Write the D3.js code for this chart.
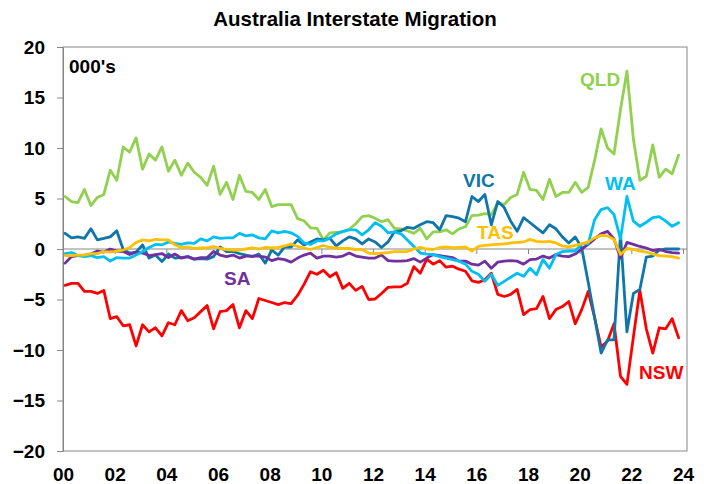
<!DOCTYPE html>
<html><head><meta charset="utf-8">
<script src="https://cdn.jsdelivr.net/npm/d3@7"></script>
<style>
body{margin:0;background:#fff}
svg{display:block}
text{font-family:"Liberation Sans",Arial,Helvetica,sans-serif;font-weight:bold}
</style>
</head><body>
<svg id="chart" width="709" height="484"></svg>
<script>
// Quarterly interstate migration, 000's, Mar-2000 .. Dec-2023 (96 quarters)
const qld = [5.2,4.7,4.6,5.9,4.3,5.1,5.4,7.8,6.8,10.1,9.6,11.0,7.9,9.4,8.8,10.1,7.7,8.8,7.3,8.5,7.6,7.1,6.3,8.2,5.4,6.6,4.9,7.3,5.7,5.6,4.9,
  5.9,4.2,4.4,4.4,4.4,3.0,2.8,2.1,2.05,0.9,1.6,1.65,1.7,1.95,2.5,3.2,3.3,3.05,2.7,2.9,2.05,2.0,1.8,1.55,2.05,1.0,1.7,1.7,1.9,1.5,2.0,
  2.2,3.3,3.35,3.5,3.4,4.6,4.4,5.1,5.4,7.6,5.9,5.8,4.9,6.9,5.2,5.6,5.6,6.6,5.6,6.1,8.8,11.9,10.0,9.4,13.8,17.6,10.9,6.8,7.2,10.3,7.1,7.9,7.45,9.3];
const nsw = [-3.6,-3.4,-3.4,-4.2,-4.2,-4.4,-4.1,-6.9,-6.7,-7.6,-7.5,-9.6,-7.5,-8.2,-7.8,-8.6,-7.3,-7.5,-6.1,-7.1,-6.8,-6.2,-5.6,-7.9,-6.2,-6.1,-5.5,-7.8,-6.1,-6.9,-4.9,
  -5.1,-5.3,-5.5,-5.3,-5.4,-4.6,-3.5,-2.25,-2.5,-2.1,-2.75,-2.35,-3.9,-3.4,-4.1,-3.7,-5.0,-4.95,-4.4,-3.8,-3.75,-3.75,-3.4,-1.75,-2.4,
  -1.0,-1.5,-1.15,-1.8,-1.7,-2.0,
  -2.2,-3.15,-3.3,-3.05,-2.4,-4.5,-4.7,-4.5,-4.0,-6.5,
  -6.0,-5.9,-4.7,-6.9,-6.0,-5.7,-5.2,-7.4,-6.0,-4.2,-6.8,-9.7,-9.1,-7.4,-12.6,-13.4,-8.7,-4.1,-7.9,-10.3,-7.8,-7.9,-6.9,-8.8];
const vic = [1.55,1.1,1.2,1.05,2.0,0.9,1.05,1.2,1.8,-0.05,-0.4,-0.3,0.4,-0.9,-0.6,-1.25,-0.5,-0.9,-0.85,-0.75,-1.0,-0.95,-1.0,-0.75,0.2,-0.25,-0.25,-0.45,-0.6,
  -0.75,-0.5,-1.4,-0.1,-0.6,0.2,0.2,0.9,0.4,0.7,1.0,0.9,1.05,0.3,0.8,1.2,1.0,0.5,1.0,0.7,0.15,0.7,1.7,1.8,2.15,2.05,2.4,2.7,2.6,1.9,3.3,3.2,3.05,
  2.7,5.2,4.7,5.4,2.4,4.7,4.1,2.75,1.75,3.1,2.6,
  2.1,1.6,2.4,2.0,1.2,0.6,1.2,0.1,-3.3,-6.8,-10.3,-9.0,-9.0,1.5,-8.2,-4.4,-4.0,-0.8,-0.7,-0.1,0.0,0.0,0.0];
const sa = [-1.4,-0.75,-0.65,-0.6,-0.5,-0.2,-0.3,0.0,-0.2,-0.25,-0.55,-0.3,-0.4,-0.65,-0.55,-0.45,-0.85,-0.5,-0.9,-0.75,-1.0,-0.85,-0.85,-0.25,-0.6,-0.75,-0.6,-0.9,-0.7,
  -0.7,-0.7,-0.8,-1.15,-0.95,-1.05,-1.3,-0.9,-0.6,-0.4,-0.9,-0.7,-0.7,-0.8,-0.7,-0.4,-0.7,-0.8,-0.9,-0.9,-0.6,-1.15,-1.2,-1.2,-1.15,-0.95,-1.3,-0.9,-0.55,
  -0.65,-0.75,-0.85,-1.2,-1.2,-1.5,-1.6,-1.2,-1.9,-1.3,-1.2,-1.15,-1.2,-1.5,-1.05,-1.0,-0.7,-0.9,-0.55,-0.7,-0.75,
  -0.5,0.0,0.45,1.0,1.5,1.75,1.0,-0.9,0.65,0.45,0.25,0.1,-0.15,-0.05,-0.25,-0.35,-0.4];
const wa = [-0.45,-0.35,-0.65,-0.75,-0.65,-0.85,-0.75,-1.2,-0.85,-0.9,-0.9,-0.6,-0.25,0.15,0.45,0.4,0.7,0.55,0.45,0.6,0.55,1.0,0.8,1.2,1.05,1.1,1.1,1.55,
  1.3,1.4,1.1,1.0,1.8,1.6,1.75,1.6,1.25,0.6,0.45,0.8,0.8,1.1,1.5,1.75,1.9,1.9,1.4,1.9,2.6,2.25,1.6,1.7,1.5,0.9,0.25,-0.4,-0.5,-0.55,
  -0.75,-0.9,-1.05,-1.2,-1.5,-2.2,-2.5,-3.2,-2.5,-3.6,-3.2,-2.8,-2.4,-2.7,-1.9,-2.55,-1.05,-1.9,-0.55,-0.25,-0.2,-0.2,0.5,0.5,
  2.9,3.9,4.1,3.4,1.0,5.2,2.75,2.25,2.65,3.1,3.2,2.75,2.25,2.6];
const tas = [-0.65,-0.65,-0.6,-0.6,-0.45,-0.45,-0.25,-0.3,-0.2,-0.1,0.15,0.65,0.9,0.8,0.95,0.9,0.9,0.4,0.15,0.2,0.05,0.1,0.1,0.25,0.05,-0.05,-0.1,-0.1,0.0,
  0.1,0.0,0.15,0.1,0.15,0.3,0.5,0.25,0.1,-0.05,0.15,0.35,0.15,0.1,0.05,0.05,-0.05,-0.05,-0.4,-0.45,-0.4,-0.35,-0.25,-0.25,-0.25,0.0,0.15,0.0,-0.05,
  0.15,0.2,0.1,0.15,0.2,-0.2,0.25,0.35,0.4,0.45,0.5,0.6,0.65,0.7,0.95,0.75,0.7,0.75,0.6,0.3,
  0.2,0.35,0.5,0.7,1.1,1.35,1.3,0.95,-0.55,0.05,-0.05,-0.2,-0.3,-0.5,-0.65,-0.7,-0.75,-0.9];

const firstQuarter = 2000.08;          // decimal date of first quarterly observation
const xTickYears = [2000,2002,2004,2006,2008,2010,2012,2014,2016,2018,2020,2022,2024];
const xTickLabels = ["00","02","04","06","08","10","12","14","16","18","20","22","24"];
const yTicks = [-20,-15,-10,-5,0,5,10,15,20];

const series = [
  {name:"NSW", values:nsw, color:"#FF0000", lx:639, ly:379},
  {name:"QLD", values:qld, color:"#92D050", lx:580, ly:86},
  {name:"VIC", values:vic, color:"#0E76A8", lx:463, ly:187},
  {name:"SA",  values:sa,  color:"#7030A0", lx:224, ly:285},
  {name:"WA",  values:wa,  color:"#00BFF3", lx:605, ly:190},
  {name:"TAS", values:tas, color:"#FFC000", lx:477, ly:239}
];

const svg = d3.select("#chart");
const L = 63, R = 687, T = 47, B = 451;
const x = d3.scaleLinear().domain([2000, 2024]).range([L, 683]);
const y = d3.scaleLinear().domain([-20, 20]).range([B, T]);
const dateAt = i => firstQuarter + i * 0.25;
const axisGrey = "#868686";

// title
svg.append("text").attr("x", 355).attr("y", 26).attr("text-anchor", "middle")
  .attr("font-size", 20.5).attr("fill", "#000").text("Australia Interstate Migration");

// plot frame
svg.append("rect").attr("x", L).attr("y", T).attr("width", R - L).attr("height", B - T)
  .attr("fill", "none").attr("stroke", axisGrey).attr("stroke-width", 1);

// y axis
const yAxis = svg.append("g").attr("transform", `translate(${L},0)`)
  .call(d3.axisLeft(y).tickValues(yTicks).tickSize(6).tickPadding(12).tickFormat(d3.format("d")));
yAxis.select(".domain").attr("stroke", axisGrey);
yAxis.selectAll(".tick line").attr("stroke", axisGrey);
yAxis.selectAll("text").attr("font-size", 19).attr("font-family", null).attr("fill", "#000");

// zero line with year ticks
const zero = svg.append("g").attr("transform", `translate(0,${y(0)})`)
  .call(d3.axisBottom(x).tickValues(xTickYears).tickSize(5).tickFormat(""));
zero.select(".domain").remove();
zero.selectAll(".tick line").attr("stroke", axisGrey);
zero.append("line").attr("x1", L).attr("x2", R).attr("stroke", axisGrey).attr("stroke-width", 1);

// year labels at bottom
const xAxis = svg.append("g").attr("transform", `translate(0,${B})`)
  .call(d3.axisBottom(x).tickValues(xTickYears).tickSize(0).tickPadding(17)
    .tickFormat((d, i) => xTickLabels[i]));
xAxis.select(".domain").remove();
xAxis.selectAll("text").attr("font-size", 19).attr("font-family", null).attr("fill", "#000");

// units
svg.append("text").attr("x", 69).attr("y", 73).attr("font-size", 19).attr("fill", "#000").text("000's");

// lines
const line = d3.line().x((d, i) => x(dateAt(i))).y(d => y(d));
series.forEach(s => {
  svg.append("path").datum(s.values).attr("d", line)
    .attr("fill", "none").attr("stroke", s.color).attr("stroke-width", 2.8)
    .attr("stroke-linejoin", "round").attr("stroke-linecap", "round");
});
series.forEach(s => {
  svg.append("text").attr("x", s.lx).attr("y", s.ly).attr("font-size", 19)
    .attr("fill", s.color).text(s.name);
});
</script>
</body></html>
